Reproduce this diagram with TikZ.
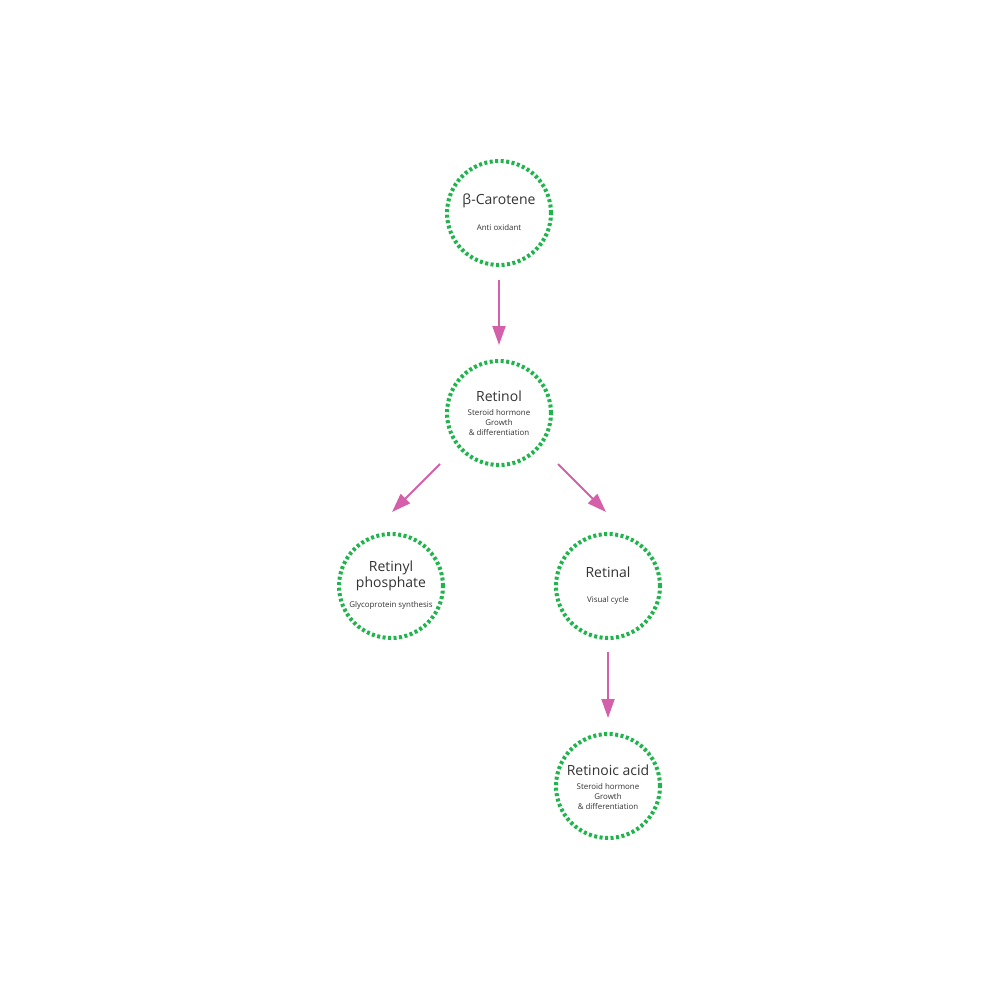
\documentclass[tikz,border=0pt]{standalone}
\usepackage{fontspec}
\setmainfont{Open Sans}
\usetikzlibrary{arrows.meta,calc}
\definecolor{ringgreen}{RGB}{32,180,76}
\definecolor{arrowpink}{RGB}{212,96,170}
\definecolor{txt}{RGB}{51,51,51}
\tikzset{
  ring/.style={circle,draw=ringgreen,line width=2pt,dash pattern=on 1.5pt off 1.25pt,minimum size=52pt,inner sep=0pt,outer sep=0pt},
  big/.style={text=txt,font=\fontsize{7pt}{8.2pt}\selectfont,inner sep=0pt,align=center},
  small/.style={text=txt,font=\fontsize{3.95pt}{5pt}\selectfont,inner sep=0pt,align=center},
  arr/.style={draw=arrowpink,line width=1pt,-{Triangle[length=9.5pt,width=6.5pt]}}
}
\begin{document}
\begin{tikzpicture}[x=0.5pt,y=-0.5pt]
\useasboundingbox (0,0) rectangle (1000,1000);
\fill[white] (0,0) rectangle (1000,1000);
% rings
\node[ring] (car) at (499,213) {};
\node[ring] (rol) at (499,413) {};
\node[ring] (rp)  at (391,586) {};
\node[ring] (ral) at (608,586) {};
\node[ring] (ra)  at (608,786) {};
% texts
\node[big]   (carT) at (499,201) {β-Carotene};
\node[small] (carS) at (499,228) {Anti oxidant};
\node[big]   (rolT) at (499,396) {Retinol};
\node[small] (rolS) at (499,423) {Steroid hormone\\Growth\\\& differentiation};
\node[big]   (rpT)  at (391,576) {Retinyl\\phosphate};
\node[small] (rpS)  at (391,605) {Glycoprotein synthesis};
\node[big]   (ralT) at (608,572) {Retinal};
\node[small] (ralS) at (608,600) {Visual cycle};
\node[big]   (raT)  at (608,770) {Retinoic acid};
\node[small] (raS)  at (608,797) {Steroid hormone\\Growth\\\& differentiation};
% arrows
\draw[arr] ($(car)+(0,67)$) -- ($(rol)+(0,-68)$);
\draw[arr] ($(rol)+(-59,51)$) -- ($(rp)+(1,-74)$);
\draw[arr] ($(rol)+(59,51)$) -- ($(ral)+(-2,-74)$);
\draw[arr] ($(ral)+(0,66)$) -- ($(ra)+(0,-68)$);
\end{tikzpicture}
\end{document}
